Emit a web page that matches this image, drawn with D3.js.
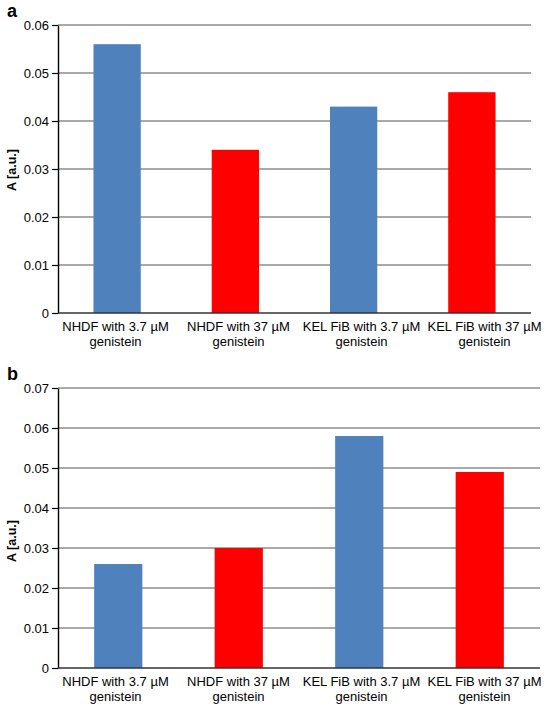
<!DOCTYPE html>
<html><head><meta charset="utf-8">
<script src="https://cdn.jsdelivr.net/npm/d3@7"></script>
<style>body{margin:0;background:#fff}svg{display:block}text{font-family:"Liberation Sans",Arial,sans-serif}</style>
</head><body>
<svg id="chart" width="560" height="704"></svg>
<script>
const categories = ["NHDF with 3.7 µM|genistein","NHDF with 37 µM|genistein","KEL FiB with 3.7 µM|genistein","KEL FiB with 37 µM|genistein"];
const valuesA = [0.056, 0.034, 0.043, 0.046];
const valuesB = [0.026, 0.030, 0.058, 0.049];
const ticksA = [0, 0.01, 0.02, 0.03, 0.04, 0.05, 0.06];
const ticksB = [0, 0.01, 0.02, 0.03, 0.04, 0.05, 0.06, 0.07];
const barColors = ["#4f81bd", "#ff0000", "#4f81bd", "#ff0000"];
const tickFmt = d => d === 0 ? "0" : d3.format(".2f")(d);

const svg = d3.select("#chart");
const FONT = '"Liberation Sans", Arial, sans-serif';

function panel(label, values, ticks, box) {
  const g = svg.append("g");
  const y = d3.scaleLinear().domain([0, d3.max(ticks)]).range([box.bottom, box.top]);
  const x = d3.scaleBand().domain(categories).range([box.left, box.right]).paddingInner(0.6).paddingOuter(0.3);
  const xl = d3.scaleBand().domain(categories).range([54, 546]);
  g.selectAll(".grid").data(ticks.filter(t => t > 0)).enter().append("line")
    .attr("x1", box.left).attr("x2", box.right)
    .attr("y1", d => y(d)).attr("y2", d => y(d))
    .attr("stroke", "#8c8c8c").attr("stroke-width", 1.3);
  g.selectAll(".bar").data(values).enter().append("rect")
    .attr("x", (d, i) => x(categories[i])).attr("width", x.bandwidth())
    .attr("y", d => y(d)).attr("height", d => y(0) - y(d))
    .attr("fill", (d, i) => barColors[i]);
  const ya = g.append("g").attr("transform", `translate(${box.left},0)`)
    .call(d3.axisLeft(y).tickValues(ticks).tickFormat(tickFmt).tickSize(6).tickSizeOuter(0));
  ya.select(".domain").attr("stroke", "#000").attr("stroke-width", 1.4);
  ya.selectAll(".tick line").attr("stroke", "#000").attr("stroke-width", 1.2);
  ya.selectAll(".tick text").attr("font-size", 13).attr("fill", "#000").attr("x", -9)
    .style("font-family", FONT);
  g.append("line").attr("x1", box.left).attr("x2", box.right)
    .attr("y1", y(0)).attr("y2", y(0)).attr("stroke", "#333").attr("stroke-width", 1.4);
  const lab = g.selectAll(".cat").data(categories).enter().append("text")
    .attr("text-anchor", "middle").attr("font-size", 13).attr("fill", "#000");
  lab.each(function(d) {
    const parts = d.split("|");
    const cx = xl(d) + xl.bandwidth() / 2;
    parts.forEach((p, k) => {
      d3.select(this).append("tspan").attr("x", cx).attr("y", y(0) + 18 + k * 15).text(p);
    });
  });
  g.append("text").attr("transform", `translate(16,${box.titleY}) rotate(-90)`)
    .attr("text-anchor", "middle").attr("font-size", 12.5).attr("font-weight", "bold").text("A [a.u.]");
  g.append("text").attr("x", 7).attr("y", box.top - 8).attr("font-size", 18)
    .attr("font-weight", "bold").text(label);
}

panel("a", valuesA, ticksA, {left: 58, right: 531, top: 25, bottom: 313, titleY: 170});
panel("b", valuesB, ticksB, {left: 58, right: 540, top: 388, bottom: 668, titleY: 541});
</script>
</body></html>
